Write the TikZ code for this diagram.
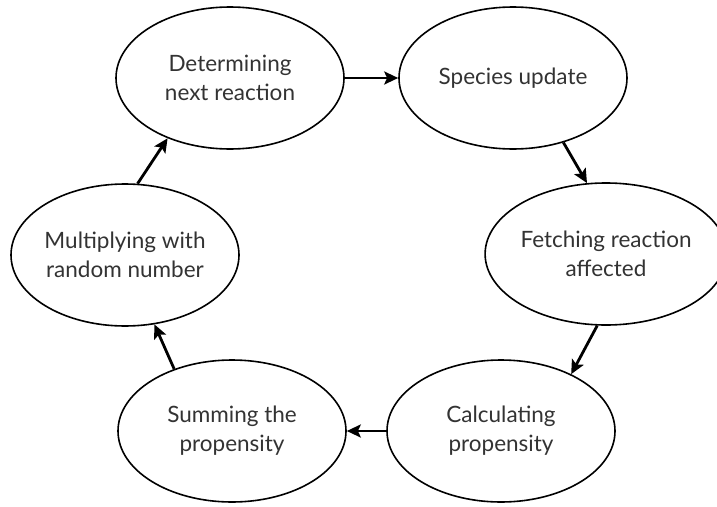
\documentclass[tikz,border=0pt]{standalone}
\usepackage{fontspec}
\setmainfont{Lato}
\usepackage{tikz}
\usetikzlibrary{arrows.meta,shapes.geometric}
\definecolor{textgrey}{RGB}{51,51,51}
\tikzset{
  cyclenode/.style={ellipse, draw=black, line width=1.6pt, fill=white,
                    minimum width=228pt, minimum height=142pt, inner sep=0pt,
                    align=center, text=textgrey,
                    font=\fontsize{22.5}{29}\selectfont},
  cyclearrow/.style={-{Stealth[length=14pt, width=13pt, inset=3pt]},
                     line width=2.8pt, black},
}

\begin{document}
\begin{tikzpicture}[x=1pt, y=-1pt]
\useasboundingbox (0,0) rectangle (717,506);
\node[cyclenode] (determine) at (230,78)  {Determining\\next reaction};
\node[cyclenode] (update)    at (513,78)  {Species update};
\node[cyclenode] (fetch)     at (606,254) {Fetching reaction\\affected};
\node[cyclenode] (calc)      at (501,431) {Calculating\\propensity};
\node[cyclenode] (summ)      at (232,431) {Summing the\\propensity};
\node[cyclenode] (multiply)  at (125,255) {Multiplying with\\random number};
\draw[cyclearrow] (determine.east) -- (update.west);
\draw[cyclearrow] (update.-52) -- (fetch.105);
\draw[cyclearrow] (fetch.-97) -- (calc.39);
\draw[cyclearrow] (calc.west) -- (summ.east);
\draw[cyclearrow] (summ.133) -- (multiply.-67);
\draw[cyclearrow] (multiply.80) -- (determine.224);
\end{tikzpicture}
\end{document}
